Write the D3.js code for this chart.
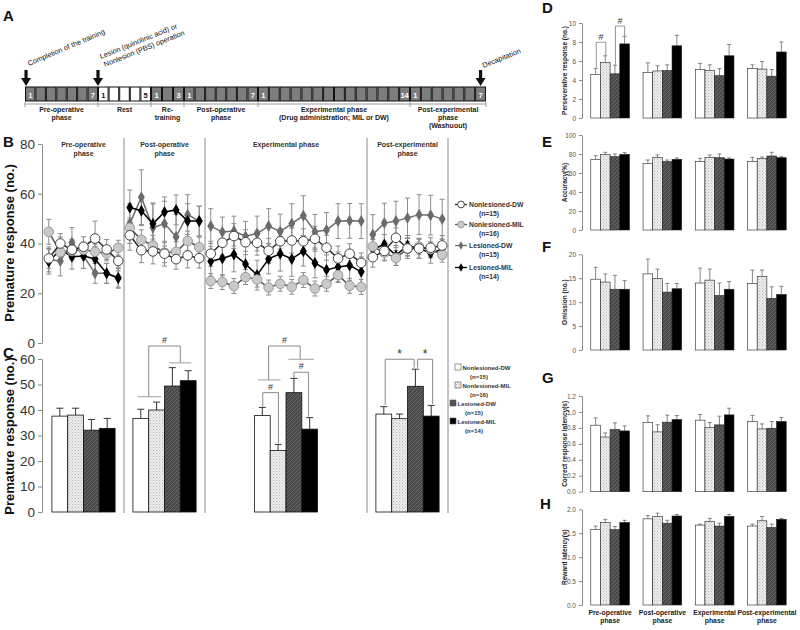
<!DOCTYPE html>
<html>
<head>
<meta charset="utf-8">
<script src="https://cdn.jsdelivr.net/npm/d3@7"></script>
<style>
  body { margin: 0; background: #fff; }
  svg { font-family: "Liberation Sans", Arial, sans-serif; }
</style>
</head>
<body>
<svg id="fig" width="800" height="630"></svg>
<script>
// ---- data ----
const groups = ["Nonlesioned-DW", "Nonlesioned-MIL", "Lesioned-DW", "Lesioned-MIL"];
const groupN = ["(n=15)", "(n=16)", "(n=15)", "(n=14)"];
const phaseLabels = ["Pre-operative\nphase", "Post-operative\nphase", "Experimental\nphase", "Post-experimental\nphase"];
const phaseTitlesB = ["Pre-operative\nphase", "Post-operative\nphase", "Experimental phase", "Post-experimental\nphase"];
const phaseSessions = [7, 7, 14, 7];

// timeline (panel A)
const timelineLabels = ["Pre-operative\nphase", "Rest", "Re-\ntraining", "Post-operative\nphase",
  "Experimental phase\n(Drug administration; MIL or DW)", "Post-experimental\nphase\n(Washuout)"];
const timelineDays = [7, 5, 3, 7, 14, 7];
const timelineRest = [false, true, false, false, false, false];

// panel B: premature responses per session (pre 7, post 7, exp 14, post-exp 7)
const bNlDW = [34, 40, 37.5, 38.7, 42, 37.6, 33,
  43.3, 37.3, 36.8, 35.9, 33.7, 35.2, 34.1,
  35.9, 40.3, 43, 40.5, 40.3, 37.1, 40.9, 41.2, 40.9, 41.9, 38.3, 34, 35.9, 32.2,
  34.5, 37, 42.3, 38, 38, 38.3, 39.2];
const bNlMIL = [44.7, 36.5, 37, 37.5, 36.7, 36, 38.3,
  46.3, 41.5, 39.2, 36.3, 36.7, 41, 38.5,
  24.9, 24.5, 22.9, 26.5, 25.5, 22.3, 23.8, 22.6, 25.3, 21.9, 23.8, 27.3, 23, 22.5,
  38.8, 36.3, 34.2, 37.9, 38.7, 37.7, 35.5];
const bLDW = [33.6, 33, 40.4, 35, 28, 28, 26.4,
  48, 58.6, 46.3, 48, 42.7, 51.6, 49,
  47, 44.6, 45, 42.9, 44, 47, 44.8, 48, 51.2, 44.7, 45.4, 49, 49.1, 49,
  43.6, 48.2, 49, 50.3, 51.6, 51.4, 49.8];
const bLMIL = [32.7, 37.6, 34.7, 35, 33.8, 28, 26,
  54.5, 53.2, 47.9, 52.7, 53.5, 49, 49,
  32.9, 34, 35.6, 31.8, 27.3, 33.8, 35.9, 33.8, 36.9, 32.2, 29.4, 30.6, 31.2, 28.6,
  37.7, 39.6, 35.2, 39.2, 38.1, 36.1, 37.7];
const bNlDWErr = [4, 4, 4, 4, 7, 4, 4, 6, 5, 5, 5, 4, 5, 4,
  5, 5, 5, 5, 5, 5, 5, 5, 5, 5, 5, 5, 4, 4, 4, 4, 4, 4, 4, 4, 4];
const bNlMILErr = [5, 3, 3, 3, 3, 3, 3, 4, 4, 4, 4, 4, 4, 4,
  3, 3, 3, 3, 3, 3, 3, 3, 3, 3, 3, 3, 3, 3, 3, 3, 3, 3, 3, 3, 3];
const bLDWErr = [5, 6, 6, 5, 4, 4, 4, 8, 11, 10, 9, 9, 8, 6,
  7, 6, 6, 6, 7, 7, 7, 8, 8, 7, 7, 7, 7, 7, 8, 8, 8, 8, 8, 8, 8];
const bLMILErr = [5, 5, 5, 5, 5, 4, 4, 7, 6, 8, 6, 6, 7, 6,
  6, 7, 7, 7, 6, 6, 7, 7, 6, 6, 6, 6, 6, 6, 4, 4, 4, 4, 4, 4, 4];

// panel C: phase means (rows = group, columns = phase)
const cMeans = [
  [37.6, 36.7, 37.8, 38.4],
  [38.0, 40.0, 24.1, 36.6],
  [32.1, 49.4, 46.8, 49.3],
  [32.8, 51.5, 32.5, 37.6]];
const cErr = [
  [3.1, 3.6, 3.2, 2.9],
  [2.7, 3.1, 2.4, 1.8],
  [4.2, 7.2, 5.6, 6.7],
  [3.9, 3.9, 4.5, 4.2]];

// panels D-H: rows = phase, columns = group
const dPersev = [[4.6, 5.85, 4.65, 7.8], [4.8, 4.95, 5.0, 7.6], [5.1, 5.0, 4.45, 6.55], [5.2, 5.15, 4.4, 6.95]];
const dPersevErr = [[0.6, 0.7, 0.9, 0.8], [1.0, 0.55, 0.6, 1.1], [0.65, 0.6, 0.75, 1.2], [0.4, 0.8, 0.7, 1.05]];
const eAcc = [[74.4, 79.3, 77.2, 79.6], [70.2, 76.5, 72, 74.4], [72, 76.5, 76.1, 74.7], [72, 75.4, 77.9, 76.1]];
const eAccErr = [[3.8, 2.5, 2.8, 1.8], [3.5, 2.5, 1.7, 1.4], [3.4, 2.5, 3.9, 1.1], [4.5, 1.4, 3.9, 1.1]];
const fOmis = [[14.8, 14.2, 12.7, 12.7], [15.9, 14.9, 12.1, 12.8], [14.0, 14.6, 11.4, 12.7], [13.9, 15.4, 10.8, 11.6]];
const fOmisErr = [[2.5, 1.7, 2.9, 1.8], [3.1, 2.0, 1.8, 1.1], [3.1, 2.3, 2.6, 1.6], [2.8, 1.3, 2.4, 1.7]];
const gCorr = [[0.834, 0.686, 0.779, 0.762], [0.867, 0.75, 0.872, 0.905], [0.897, 0.804, 0.838, 0.963], [0.88, 0.787, 0.796, 0.88]];
const gCorrErr = [[0.092, 0.051, 0.084, 0.063], [0.084, 0.09, 0.088, 0.05], [0.071, 0.063, 0.109, 0.084], [0.076, 0.063, 0.084, 0.05]];
const hRew = [[1.58, 1.72, 1.575, 1.725], [1.80, 1.85, 1.71, 1.86], [1.67, 1.75, 1.65, 1.85], [1.65, 1.76, 1.62, 1.79]];
const hRewErr = [[0.07, 0.07, 0.065, 0.045], [0.07, 0.07, 0.06, 0.03], [0.02, 0.06, 0.06, 0.04], [0.04, 0.09, 0.07, 0.02]];

const dTicks = [0, 2, 4, 6, 8, 10];
const eTicks = [0, 20, 40, 60, 80, 100];
const fTicks = [0, 5, 10, 15, 20];
const gTicks = [0, 0.2, 0.4, 0.6, 0.8, 1.0, 1.2];
const hTicks = [0, 0.5, 1.0, 1.5, 2.0];

// significance marks: groups a..b (fractional group index), bar level y, drop ends ya / yb
const cSig = [
  {phase: 1, a: 0.5, b: 2.5, y: 65.1, ya: 45.2, yb: 58.5, label: "#", subs: [[-0.2, 1.3, 45.2], [1.8, 3.2, 58.5]]},
  {phase: 2, a: 0.4, b: 2.4, y: 65.1, ya: 51.8, yb: 59.9, label: "#", subs: [[-0.27, 1.15, 51.8], [1.65, 3.26, 59.9]]},
  {phase: 2, a: 2.0, b: 2.92, y: 54.8, ya: 52.5, yb: 37.4, label: "#", subs: []},
  {phase: 2, a: 0.03, b: 1.02, y: 46.8, ya: 41.3, yb: 26.9, label: "#", subs: []},
  {phase: 3, a: 0.09, b: 1.92, y: 59.9, ya: 42, yb: 56.6, label: "*", subs: []},
  {phase: 3, a: 2.14, b: 3.09, y: 59.9, ya: 56.6, yb: 42.4, label: "*", subs: []}];
const dSig = [
  {phase: 0, a: 0.07, b: 1.05, y: 7.97, ya: 5.23, yb: 6.56, label: "#"},
  {phase: 0, a: 2.05, b: 3.0, y: 9.68, ya: 5.58, yb: 8.6, label: "#"}];

// ---- drawing ----
const svg = d3.select("#fig");
const defs = svg.append("defs");
const pm = defs.append("pattern").attr("id", "patMIL").attr("width", 3).attr("height", 3)
  .attr("patternUnits", "userSpaceOnUse");
pm.append("rect").attr("width", 3).attr("height", 3).attr("fill", "#ededed");
pm.append("rect").attr("width", 1).attr("height", 1).attr("fill", "#b8b8b8");
pm.append("rect").attr("x", 1.5).attr("y", 1.5).attr("width", 1).attr("height", 1).attr("fill", "#c8c8c8");
const pl = defs.append("pattern").attr("id", "patLDW").attr("width", 4).attr("height", 4)
  .attr("patternUnits", "userSpaceOnUse");
pl.append("rect").attr("width", 4).attr("height", 4).attr("fill", "#4a4a4a");
pl.append("path").attr("d", "M0,4L4,0M-1,1L1,-1M3,5L5,3").attr("stroke", "#686868").attr("stroke-width", 1);

const barFill = ["#ffffff", "url(#patMIL)", "url(#patLDW)", "#000000"];

function multiText(sel, x, y, text, lh, size, weight, anchor, fill) {
  const t = sel.append("text").attr("x", x).attr("y", y)
    .attr("font-size", size).attr("font-weight", weight || "bold")
    .attr("text-anchor", anchor || "middle").attr("fill", fill || "#222");
  text.split("\n").forEach((s, i) => t.append("tspan").attr("x", x).attr("dy", i ? lh : 0).text(s));
  return t;
}

function letter(x, y, s) {
  svg.append("text").attr("x", x).attr("y", y).attr("font-size", 15)
    .attr("font-weight", "bold").attr("fill", "#111").text(s);
}

function downArrow(x, y0, y1) {
  svg.append("path")
    .attr("d", `M${x - 1.6},${y0}L${x + 1.6},${y0}L${x + 1.6},${y1 - 8}L${x + 5},${y1 - 8}L${x},${y1}L${x - 5},${y1 - 8}L${x - 1.6},${y1 - 8}Z`)
    .attr("fill", "#111");
}

// Panel A
letter(3, 21, "A");
const tlBounds = Array.from(d3.cumsum([0, ...timelineDays]));
const xT = d3.scaleLinear().domain(tlBounds).range([25, 98, 151, 184, 258, 410, 486]);
const tl = svg.append("g");
timelineDays.forEach((n, k) => {
  const s = tlBounds[k];
  d3.range(n).forEach(d => {
    tl.append("rect")
      .attr("x", xT(s + d) + 0.5).attr("y", 87)
      .attr("width", xT(s + d + 1) - xT(s + d) - 1).attr("height", 14)
      .attr("fill", timelineRest[k] ? "#fff" : "#7d7d7d")
      .attr("stroke", "#111").attr("stroke-width", 1);
  });
  [[0, "1"], [n - 1, String(n)]].forEach(([d, s2]) => {
    tl.append("text").attr("x", xT(s + d + 0.5)).attr("y", 97.5)
      .attr("text-anchor", "middle").attr("font-size", 7.5).attr("font-weight", "bold")
      .attr("fill", timelineRest[k] ? "#111" : "#fff").text(s2);
  });
  multiText(tl, (xT(s) + xT(s + n)) / 2, 112, timelineLabels[k], 8, 7, "bold", "middle", "#222");
});
tl.append("line").attr("x1", xT(0)).attr("x2", xT(43)).attr("y1", 104).attr("y2", 104)
  .attr("stroke", "#999");
tlBounds.forEach(b => tl.append("line").attr("x1", xT(b)).attr("x2", xT(b))
  .attr("y1", 102).attr("y2", 107).attr("stroke", "#999"));

downArrow(xT(0.1), 70, 86);
downArrow(xT(7), 70, 86);
downArrow(xT(42.5), 70, 86);
const noteG = svg.append("g").attr("font-size", 7.3).attr("fill", "#111");
noteG.append("text").attr("transform", "translate(29,66) rotate(-23)").text("Completion of the training");
noteG.append("text").attr("transform", `translate(${xT(7) + 3},59) rotate(-22)`).text("Lesion (quinolinic acid) or");
noteG.append("text").attr("transform", `translate(${xT(7) + 7},67) rotate(-22)`).text("Nonlesion (PBS) operation");
noteG.append("text").attr("transform", `translate(${xT(42.5) + 3},68) rotate(-22)`).text("Decapitation");

// Panel B
letter(3, 147, "B");
const sessStart = Array.from(d3.cumsum([0, ...phaseSessions]));
const xB = d3.scaleLinear().domain([-0.5, 34.5]).range([43, 448]);
const yB = d3.scaleLinear().domain([0, 80]).range([343, 144]);
const yC = d3.scaleLinear().domain([0, 60]).range([512, 359]);

function styleAxis(g, size, color) {
  g.select(".domain").attr("stroke", "#8a8a8a");
  g.selectAll(".tick line").attr("stroke", "#8a8a8a");
  g.selectAll(".tick text").attr("font-size", size).attr("fill", color)
    .attr("font-family", "Liberation Sans, Arial, sans-serif");
}

const axB = svg.append("g").attr("transform", "translate(42,0)")
  .call(d3.axisLeft(yB).tickValues([0, 20, 40, 60, 80]).tickSize(4).tickSizeOuter(0));
styleAxis(axB, 13.5, "#333");
const axC = svg.append("g").attr("transform", "translate(42,0)")
  .call(d3.axisLeft(yC).tickValues([0, 10, 20, 30, 40, 50, 60]).tickSize(4).tickSizeOuter(0));
styleAxis(axC, 13.5, "#333");

svg.append("text").attr("transform", "translate(14,243) rotate(-90)").attr("text-anchor", "middle")
  .attr("font-size", 13).attr("font-weight", "bold").attr("fill", "#111").text("Premature response (no.)");
svg.append("text").attr("transform", "translate(14,436) rotate(-90)").attr("text-anchor", "middle")
  .attr("font-size", 13).attr("font-weight", "bold").attr("fill", "#111").text("Premature response (no.)");

// phase separators across B and C
phaseSessions.forEach((n, k) => {
  const xs = xB(sessStart[k + 1] - 0.5);
  svg.append("line").attr("x1", xs).attr("x2", xs).attr("y1", 138).attr("y2", 513)
    .attr("stroke", "#8a8a8a").attr("stroke-width", 1);
  multiText(svg, xB(sessStart[k] + (n - 1) / 2), 147, phaseTitlesB[k], 8.5, 7, "bold", "middle", "#333");
});

const bSeries = [
  {values: bLDW, err: bLDWErr, shape: "diamond", fill: "#6b6b6b", stroke: "#6b6b6b", line: "#6b6b6b"},
  {values: bLMIL, err: bLMILErr, shape: "diamond", fill: "#000", stroke: "#000", line: "#000"},
  {values: bNlMIL, err: bNlMILErr, shape: "circle", fill: "#c9c9c9", stroke: "#9a9a9a", line: "#555"},
  {values: bNlDW, err: bNlDWErr, shape: "circle", fill: "#fff", stroke: "#444", line: "#2a2a2a"}];
const legendOrder = [3, 2, 0, 1];
const seriesGroup = [2, 3, 1, 0];

const errG = svg.append("g").attr("stroke", "#8c8c8c").attr("stroke-width", 1);
bSeries.forEach(s => {
  s.values.forEach((v, i) => {
    const x = xB(i), e = s.err[i];
    errG.append("line").attr("x1", x).attr("x2", x).attr("y1", yB(v - e)).attr("y2", yB(v + e));
    errG.append("line").attr("x1", x - 2.5).attr("x2", x + 2.5).attr("y1", yB(v + e)).attr("y2", yB(v + e));
    errG.append("line").attr("x1", x - 2.5).attr("x2", x + 2.5).attr("y1", yB(v - e)).attr("y2", yB(v - e));
  });
});

const lineGen = d3.line().x(d => xB(d.i)).y(d => yB(d.v));
function drawMarker(g, s, x, y, r) {
  if (s.shape === "circle") {
    g.append("circle").attr("cx", x).attr("cy", y).attr("r", r)
      .attr("fill", s.fill).attr("stroke", s.stroke).attr("stroke-width", 1);
  } else {
    g.append("path").attr("d", d3.symbol(d3.symbolDiamond, r * r * 1.8)())
      .attr("transform", `translate(${x},${y})`).attr("fill", s.fill);
  }
}
bSeries.forEach(s => {
  const g = svg.append("g");
  phaseSessions.forEach((n, k) => {
    const pts = d3.range(sessStart[k], sessStart[k] + n).map(i => ({i, v: s.values[i]}));
    g.append("path").attr("d", lineGen(pts)).attr("fill", "none")
      .attr("stroke", s.line).attr("stroke-width", 1.5);
  });
  s.values.forEach((v, i) => drawMarker(g, s, xB(i), yB(v), 4.8));
});

// legend B
const legB = svg.append("g");
legendOrder.forEach((si, r) => {
  const s = bSeries[si];
  const gi = seriesGroup[si];
  const yy = [207, 227, 248, 270][r];
  legB.append("line").attr("x1", 455).attr("x2", 467).attr("y1", yy - 2.5).attr("y2", yy - 2.5)
    .attr("stroke", s.line).attr("stroke-width", 1.3);
  drawMarker(legB, s, 461, yy - 2.5, 3.4);
  legB.append("text").attr("x", 469).attr("y", yy).attr("font-size", 6.8).attr("font-weight", "bold")
    .attr("fill", "#333").text(groups[gi]);
  legB.append("text").attr("x", 489).attr("y", yy + 9).attr("text-anchor", "middle")
    .attr("font-size", 6.8).attr("font-weight", "bold").attr("fill", "#333").text(groupN[gi]);
});

// Panel C
letter(3, 358, "C");
const cBarW = 15.8;
const cCenter = k => xB(sessStart[k] + (phaseSessions[k] - 1) / 2);
const cPos = (k, g) => cCenter(k) + (g - 1.5) * cBarW;
const cG = svg.append("g");
groups.forEach((gname, g) => {
  phaseSessions.forEach((n, k) => {
    const v = cMeans[g][k], e = cErr[g][k], x = cPos(k, g);
    cG.append("line").attr("x1", x).attr("x2", x).attr("y1", yC(v)).attr("y2", yC(v + e))
      .attr("stroke", "#333").attr("stroke-width", 1);
    cG.append("line").attr("x1", x - 3.5).attr("x2", x + 3.5).attr("y1", yC(v + e)).attr("y2", yC(v + e))
      .attr("stroke", "#333").attr("stroke-width", 1);
    cG.append("rect").attr("x", x - cBarW / 2).attr("y", yC(v))
      .attr("width", cBarW).attr("height", yC(0) - yC(v))
      .attr("fill", barFill[g]).attr("stroke", "#111").attr("stroke-width", 0.8);
  });
});
const sigG = svg.append("g").attr("stroke", "#8a8a8a").attr("stroke-width", 1).attr("fill", "none");
cSig.forEach(s => {
  const xa = cPos(s.phase, s.a), xb = cPos(s.phase, s.b);
  sigG.append("path").attr("d", `M${xa},${yC(s.ya)}L${xa},${yC(s.y)}L${xb},${yC(s.y)}L${xb},${yC(s.yb)}`);
  s.subs.forEach(([f, t, yy]) => sigG.append("line").attr("x1", cPos(s.phase, f)).attr("x2", cPos(s.phase, t))
    .attr("y1", yC(yy)).attr("y2", yC(yy)).attr("stroke", "#a0a0a0"));
  svg.append("text").attr("x", (xa + xb) / 2).attr("y", yC(s.y) - (s.label === "*" ? 1 : 3))
    .attr("text-anchor", "middle").attr("font-size", s.label === "*" ? 12 : 9).attr("fill", "#333").text(s.label);
});

// legend C
const legC = svg.append("g");
groups.forEach((gname, g) => {
  const yy = [370, 388, 406, 424][g];
  const x0 = g < 2 ? 455 : 450;
  legC.append("rect").attr("x", x0).attr("y", yy - 6).attr("width", 6).attr("height", 6)
    .attr("fill", barFill[g]).attr("stroke", "#555").attr("stroke-width", 0.6);
  legC.append("text").attr("x", x0 + 7.5).attr("y", yy).attr("font-size", 6).attr("font-weight", "bold")
    .attr("fill", "#333").text(gname);
  legC.append("text").attr("x", x0 + 24).attr("y", yy + 9).attr("text-anchor", "middle")
    .attr("font-size", 6).attr("font-weight", "bold").attr("fill", "#333").text(groupN[g]);
});

// Panels D-H
const phaseKeys = d3.range(4);
const xR = d3.scaleBand().domain(phaseKeys).range([584, 793]).paddingInner(0.26).paddingOuter(0.13);
const xg = d3.scaleBand().domain(d3.range(4)).range([0, xR.bandwidth()]);
const rPos = (k, g) => xR(k) + xg.bandwidth() * (g + 0.5);

function barPanel(cfg) {
  const y = d3.scaleLinear().domain(cfg.domain).range(cfg.range);
  const ax = svg.append("g").attr("transform", "translate(582,0)")
    .call(d3.axisLeft(y).tickValues(cfg.ticks).tickSize(3).tickSizeOuter(0).tickFormat(d3.format(cfg.fmt)));
  styleAxis(ax, 6.5, "#555");
  const g = svg.append("g");
  cfg.values.forEach((row, k) => row.forEach((v, gi) => {
    const x = rPos(k, gi), e = cfg.err[k][gi];
    g.append("line").attr("x1", x).attr("x2", x).attr("y1", y(v)).attr("y2", y(v + e))
      .attr("stroke", "#777").attr("stroke-width", 0.9);
    g.append("line").attr("x1", x - 2).attr("x2", x + 2).attr("y1", y(v + e)).attr("y2", y(v + e))
      .attr("stroke", "#777").attr("stroke-width", 0.9);
    g.append("rect").attr("x", xR(k) + xg(gi)).attr("y", y(v))
      .attr("width", xg.bandwidth()).attr("height", y(0) - y(v))
      .attr("fill", barFill[gi]).attr("stroke", "#222").attr("stroke-width", 0.6);
  }));
  svg.append("text").attr("transform", `translate(567,${(cfg.range[0] + cfg.range[1]) / 2}) rotate(-90)`)
    .attr("text-anchor", "middle").attr("font-size", 6.5).attr("font-weight", "bold")
    .attr("fill", "#222").text(cfg.label);
  letter(cfg.lx, cfg.ly, cfg.letter);
  return y;
}

const yD = barPanel({domain: [0, 10], range: [118, 23], ticks: dTicks, fmt: "d", values: dPersev, err: dPersevErr,
  label: "Perseverative response (no.)", letter: "D", lx: 542, ly: 13});
barPanel({domain: [0, 100], range: [230, 135], ticks: eTicks, fmt: "d", values: eAcc, err: eAccErr,
  label: "Accuracy(%)", letter: "E", lx: 542, ly: 147});
barPanel({domain: [0, 20], range: [350, 254.3], ticks: fTicks, fmt: "d", values: fOmis, err: fOmisErr,
  label: "Omission (no.)", letter: "F", lx: 542, ly: 252});
barPanel({domain: [0, 1.2], range: [491.7, 396], ticks: gTicks, fmt: ".1f", values: gCorr, err: gCorrErr,
  label: "Correct response latency(s)", letter: "G", lx: 542, ly: 383});
barPanel({domain: [0, 2], range: [605, 509.3], ticks: hTicks, fmt: ".1f", values: hRew, err: hRewErr,
  label: "Reward latency(s)", letter: "H", lx: 540, ly: 509});

dSig.forEach(s => {
  const xa = rPos(s.phase, s.a), xb = rPos(s.phase, s.b);
  svg.append("path").attr("d", `M${xa},${yD(s.ya)}L${xa},${yD(s.y)}L${xb},${yD(s.y)}L${xb},${yD(s.yb)}`)
    .attr("fill", "none").attr("stroke", "#8a8a8a").attr("stroke-width", 0.9);
  svg.append("text").attr("x", (xa + xb) / 2).attr("y", yD(s.y) - 2.5).attr("text-anchor", "middle")
    .attr("font-size", 9).attr("fill", "#333").text(s.label);
});

phaseKeys.forEach(k => multiText(svg, xR(k) + xR.bandwidth() / 2, 615, phaseLabels[k], 8, 6.8, "bold", "middle", "#222"));
</script>
</body>
</html>
